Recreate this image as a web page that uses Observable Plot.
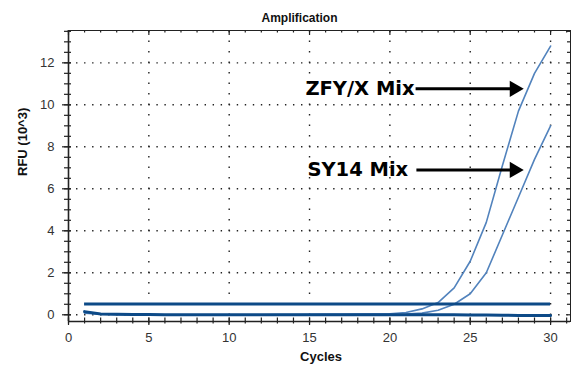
<!DOCTYPE html>
<html>
<head>
<meta charset="utf-8">
<script src="https://cdn.jsdelivr.net/npm/d3@7"></script>
<script src="https://cdn.jsdelivr.net/npm/@observablehq/plot@0.6"></script>
<style>
  html, body { margin: 0; padding: 0; background: white; }
</style>
</head>
<body>
<div id="chart"></div>
<script>
// ---- data ----
const cycles = [1,2,3,4,5,6,7,8,9,10,11,12,13,14,15,16,17,18,19,20,21,22,23,24,25,26,27,28,29,30];
const zfyX   = [0.10,0.04,0.02,0.01,0.01,0.00,0.00,0.00,0.00,0.00,0.00,0.00,0.01,0.01,0.01,0.02,0.02,0.03,0.04,0.05,0.11,0.28,0.58,1.28,2.55,4.40,7.10,9.70,11.50,12.80];
const sy14   = [0.08,0.03,0.02,0.01,0.00,0.00,0.00,0.00,0.00,0.00,0.00,0.00,0.00,0.00,0.01,0.01,0.01,0.01,0.02,0.02,0.03,0.08,0.22,0.50,1.00,2.00,3.80,5.60,7.40,9.00];
const ntc    = [0.15,0.04,0.02,0.01,0.01,0.00,0.00,0.00,0.00,0.00,0.00,0.00,0.00,0.00,0.00,0.00,0.00,0.00,0.00,0.00,0.00,0.00,0.00,0.00,-0.01,-0.01,-0.02,-0.03,-0.03,-0.03];
const threshold = 0.51;

const annLabels = ["ZFY/X Mix", "SY14 Mix"];
const annY      = [10.76, 6.9];
const annTextX  = [21.6, 21.2];
const annFromX  = [21.6, 21.65];
const annToX    = [28.31, 28.31];

const xMajorTicks = [0,5,10,15,20,25,30];
const xAllTicks   = [0,1,2,3,4,5,6,7,8,9,10,11,12,13,14,15,16,17,18,19,20,21,22,23,24,25,26,27,28,29,30,31];
const yMajorTicks = [0,2,4,6,8,10,12];
const yAllTicks   = d3.range(0, 13.51, 0.5);

const title  = "Amplification";
const xLabel = "Cycles";
const yLabel = "RFU (10^3)";

// ---- tables ----
const rows = arr => cycles.map((c, i) => ({cycle: c, value: arr[i]}));
const annotations = annLabels.map((label, i) => ({label, y: annY[i], tx: annTextX[i], x1: annFromX[i], x2: annToX[i]}));

const width = 573, height = 373;
const mL = 68, mR = 3, mT = 30, mB = 52;
const innerW = width - mL - mR, innerH = height - mT - mB;
const yMin = -0.32, yMax = 13.54;

const ink = "#222";
const dark = "#0d4a87";
const light = "#5283bd";

const chart = Plot.plot({
  width, height,
  marginLeft: mL, marginRight: mR, marginTop: mT, marginBottom: mB,
  x: {domain: [0, 31.24]},
  y: {domain: [yMin, yMax]},
  style: {fontFamily: "'Liberation Sans', Arial, sans-serif", background: "white"},
  marks: [
    // dotted grid
    Plot.ruleY(yMajorTicks, {stroke: ink, strokeWidth: 1.4, strokeDasharray: "1.4,6.635"}),
    Plot.ruleX(xMajorTicks.filter(d => d > 0), {stroke: ink, strokeWidth: 1.4, strokeDasharray: "1.4,9.1"}),
    // tick marks: bottom
    Plot.ruleX(xAllTicks, {stroke: ink, strokeWidth: 1.2, insetTop: innerH - 3.5, insetBottom: -2.5}),
    Plot.ruleX(xMajorTicks, {stroke: ink, strokeWidth: 1.2, insetTop: innerH - 3.5, insetBottom: -4}),
    // top
    Plot.ruleX(xAllTicks, {stroke: ink, strokeWidth: 1.2, insetTop: 0, insetBottom: innerH - 2.5}),
    Plot.ruleX(xMajorTicks, {stroke: ink, strokeWidth: 1.2, insetTop: 0, insetBottom: innerH - 5}),
    // left
    Plot.ruleY(yAllTicks, {stroke: ink, strokeWidth: 1.2, insetLeft: -4, insetRight: innerW - 3}),
    Plot.ruleY(yMajorTicks, {stroke: ink, strokeWidth: 1.2, insetLeft: -6, insetRight: innerW - 3}),
    // right
    Plot.ruleY(yAllTicks, {stroke: ink, strokeWidth: 1.2, insetLeft: innerW - 3, insetRight: -1}),
    // frame and axis lines
    Plot.frame({stroke: ink, strokeWidth: 1}),
    Plot.ruleX([0], {stroke: ink, strokeWidth: 1.6}),
    Plot.ruleY([yMin], {stroke: ink, strokeWidth: 1.6}),
    // tick labels
    Plot.axisX(xMajorTicks, {anchor: "bottom", tickSize: 0, tickPadding: 11, fontSize: 13, fill: "#333", label: null}),
    Plot.axisY(yMajorTicks, {anchor: "left", tickSize: 0, tickPadding: 14, fontSize: 13, fill: "#333", label: null}),
    // curves
    Plot.line(rows(zfyX), {x: "cycle", y: "value", stroke: light, strokeWidth: 1.6}),
    Plot.line(rows(sy14), {x: "cycle", y: "value", stroke: light, strokeWidth: 1.6}),
    Plot.line(rows(ntc), {x: "cycle", y: "value", stroke: dark, strokeWidth: 3}),
    Plot.ruleY([threshold], {x1: cycles[0], x2: cycles[cycles.length - 1], stroke: dark, strokeWidth: 3}),
    // annotations
    Plot.link(annotations, {x1: "x1", x2: d => d.x2 - 0.4, y1: "y", y2: "y", stroke: "black", strokeWidth: 3}),
    Plot.dot(annotations, {x: "x2", y: "y", symbol: "triangle", r: 6, rotate: 90, fill: "black", stroke: "none", dx: -9}),
    Plot.text(annotations, {x: "tx", y: "y", text: "label", textAnchor: "end", dx: -1, fontFamily: "'DejaVu Sans', Verdana, sans-serif", fontWeight: "bold", fontSize: 19.5, fill: "black"}),
    // titles
    Plot.text([title], {frameAnchor: "top", dx: -20, dy: -17, fontWeight: "bold", fontSize: 12, fill: "#111"}),
    Plot.text([xLabel], {frameAnchor: "bottom", dx: 1.5, dy: 39, fontWeight: "bold", fontSize: 13, fill: "#111"}),
    Plot.text([yLabel], {frameAnchor: "left", dx: -46, rotate: -90, fontWeight: "bold", fontSize: 13, fill: "#111"})
  ]
});
document.getElementById("chart").append(chart);
</script>
</body>
</html>
